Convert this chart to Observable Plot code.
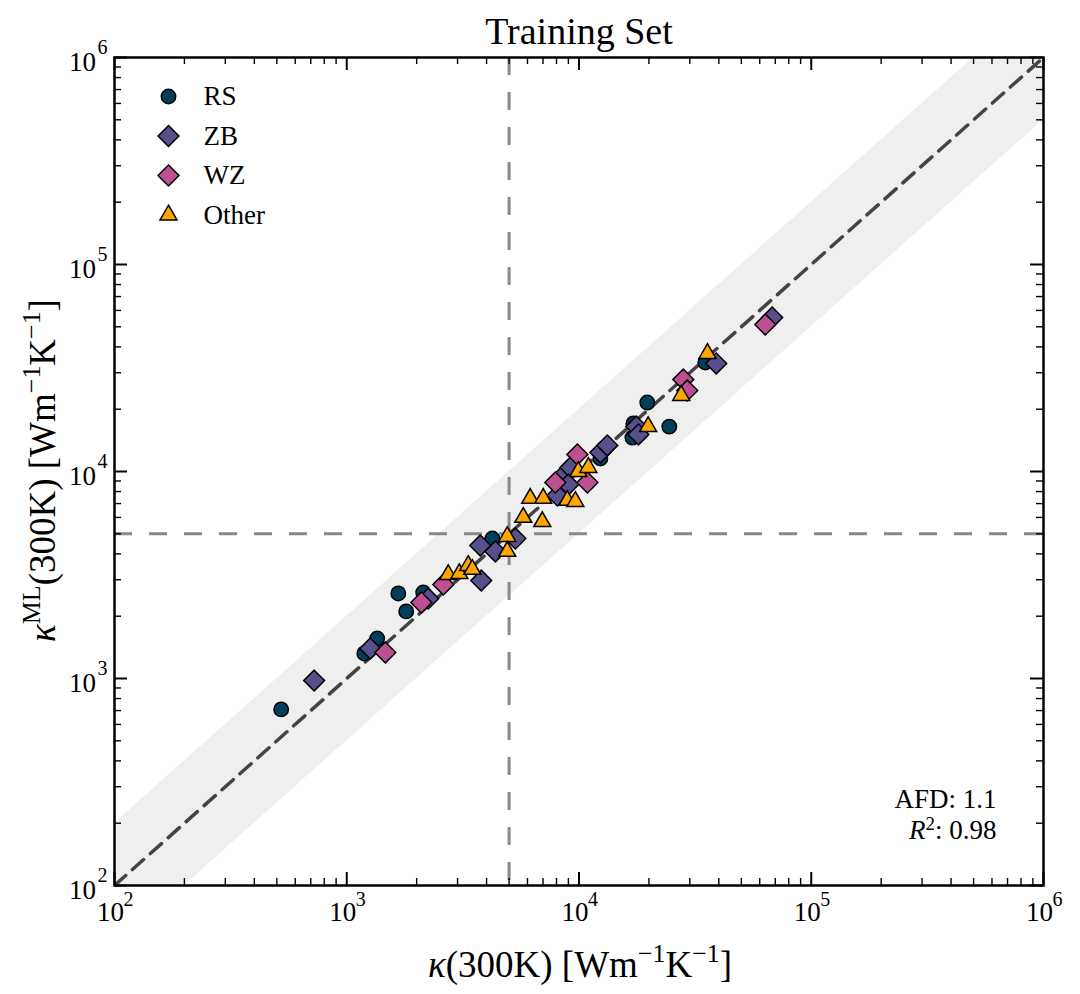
<!DOCTYPE html>
<html><head><meta charset="utf-8">
<script src="https://cdn.jsdelivr.net/npm/d3@7"></script>
<script src="https://cdn.jsdelivr.net/npm/@observablehq/plot@0.6"></script>
<style>html,body{margin:0;padding:0;background:#fff}</style>
</head><body><div id="chart"></div>
<script>
// ---- data ----
const rsX = [522, 1190, 1352, 1667, 1803, 2134, 4237, 12360, 16980, 17150, 19680, 24480, 34990];
const rsY = [709, 1321, 1560, 2576, 2109, 2601, 4744, 11560, 14590, 17060, 21540, 16480, 33640];

const zbX = [724, 1262, 2244, 3794, 3757, 4365, 5321, 8072, 8650, 9186, 9000, 12360, 13240, 17660, 18030, 38990, 67880];
const zbY = [977, 1396, 2432, 2972, 4394, 4111, 4744, 7656, 9685, 10450, 8650, 12360, 13370, 16480, 15100, 33270, 55480];

const wzX = [1466, 2094, 2606, 7907, 9838, 10870, 28120, 29240, 63390];
const wzY = [1336, 2329, 2845, 8850, 12080, 8850, 27800, 24600, 51290];

const otherX = [2735, 3054, 3335, 3473, 4909, 4909, 5754, 6166, 7015, 6950, 8906, 9643, 9931, 10970, 19850, 27540, 35730];
const otherY = [3177, 3213, 3514, 3363, 4853, 4111, 5998, 7413, 7413, 5727, 7246, 7161, 10000, 10450, 16480, 23280, 37150];

const categories = ["RS", "ZB", "WZ", "Other"];
const colors = ["#003f5c", "#58508d", "#bc5090", "#ffa600"];
const symbols = ["circle", "diamond2", "diamond2", "triangle"];
const radii = [7.2, 9.4, 9.4, 6.3];

const majorTicks = [1e2, 1e3, 1e4, 1e5, 1e6];
const thresholds = [5000];
const diagX = [1e2, 1e6];
const bandFactor = 2;
const afdText = "AFD: 1.1";
const r2Text = "R2: 0.98";
const title = "Training Set";
const xLabel = "κ(300K) [Wm−1K−1]";
const yLabel = "κML(300K) [Wm−1K−1]";

// ---- layout ----
const width = 1080, height = 994;
const mL = 114, mR = 37, mT = 57, mB = 109;
const W = width - mL - mR, H = height - mT - mB;
const FONT = "'Liberation Serif', 'Times New Roman', serif";

const minorTicks = [];
for (let k = 2; k < 6; k++) for (let m = 2; m < 10; m++) minorTicks.push(m * Math.pow(10, k));

const series = [[rsX, rsY], [zbX, zbY], [wzX, wzY], [otherX, otherY]];

const marks = [
  Plot.areaY(diagX, {x: d => d, y1: d => d / bandFactor, y2: d => d * bandFactor, fill: "#efefef", clip: true}),
  Plot.ruleX(thresholds, {x: d => d, stroke: "#888", strokeWidth: 3, strokeDasharray: "18,17"}),
  Plot.ruleY(thresholds, {y: d => d, stroke: "#888", strokeWidth: 3, strokeDasharray: "18,17"}),
  Plot.line(diagX, {x: d => d, y: d => d, stroke: "#444", strokeWidth: 3.5, strokeDasharray: "15,9", clip: true})
];

series.forEach(([xs, ys], i) => {
  const rows = xs.map((x, j) => ({x, y: ys[j]}));
  marks.push(Plot.dot(rows, {x: "x", y: "y", r: radii[i], symbol: symbols[i], fill: colors[i], stroke: "black", strokeWidth: 1.5, fillOpacity: 1}));
});

// ticks (inward on all sides)
const majorStyle = {stroke: "black", strokeWidth: 2};
const minorStyle = {stroke: "black", strokeWidth: 1.4};
marks.push(
  Plot.ruleX(majorTicks, {x: d => d, insetTop: H - 13, ...majorStyle}),
  Plot.ruleX(majorTicks, {x: d => d, insetBottom: H - 13, ...majorStyle}),
  Plot.ruleX(minorTicks, {x: d => d, insetTop: H - 7, ...minorStyle}),
  Plot.ruleX(minorTicks, {x: d => d, insetBottom: H - 7, ...minorStyle}),
  Plot.ruleY(majorTicks, {y: d => d, insetRight: W - 13, ...majorStyle}),
  Plot.ruleY(majorTicks, {y: d => d, insetLeft: W - 13, ...majorStyle}),
  Plot.ruleY(minorTicks, {y: d => d, insetRight: W - 7, ...minorStyle}),
  Plot.ruleY(minorTicks, {y: d => d, insetLeft: W - 7, ...minorStyle}),
  Plot.frame({stroke: "black", strokeWidth: 2.5})
);

// tick labels 10^k
const exp = d => String(Math.round(Math.log10(d)));
const T = {textAnchor: "middle", lineAnchor: "middle"};
marks.push(
  Plot.text(majorTicks, {x: d => d, frameAnchor: "bottom", text: () => "10", dx: -4, dy: 27, fontSize: 27, ...T}),
  Plot.text(majorTicks, {x: d => d, frameAnchor: "bottom", text: exp, dx: 14, dy: 14, fontSize: 20, ...T}),
  Plot.text(majorTicks, {y: d => d, frameAnchor: "left", text: () => "10", dx: -32, dy: 5, fontSize: 27, ...T}),
  Plot.text(majorTicks, {y: d => d, frameAnchor: "left", text: exp, dx: -12, dy: -10, fontSize: 20, ...T})
);

// legend
categories.forEach((c, i) => {
  const dy = 39 + i * 39.5;
  marks.push(
    Plot.dot([c], {frameAnchor: "top-left", dx: 54, dy, r: radii[i], symbol: symbols[i], fill: colors[i], stroke: "black", strokeWidth: 1.5}),
    Plot.text([c], {frameAnchor: "top-left", dx: 89, dy, text: d => d, textAnchor: "start", lineAnchor: "middle", fontSize: 27})
  );
});

// annotations, title, axis labels
marks.push(
  Plot.text([afdText], {frameAnchor: "bottom-right", dx: -47, dy: -86, text: d => d, textAnchor: "end", lineAnchor: "middle", fontSize: 27}),
  Plot.text([r2Text], {frameAnchor: "bottom-right", dx: -47, dy: -55, text: d => d, textAnchor: "end", lineAnchor: "middle", fontSize: 27}),
  Plot.text([title], {frameAnchor: "top", dy: -26, text: d => d, fontSize: 38, ...T}),
  Plot.text([xLabel], {frameAnchor: "bottom", dx: 1, dy: 80, text: d => d, fontSize: 37, ...T}),
  Plot.text([yLabel], {frameAnchor: "left", dx: -71, dy: -1, rotate: -90, text: d => d, fontSize: 37, ...T})
);

const chart = Plot.plot({
  width, height,
  marginLeft: mL, marginRight: mR, marginTop: mT, marginBottom: mB,
  style: {fontFamily: FONT, background: "white", color: "black", overflow: "visible"},
  x: {type: "log", domain: [1e2, 1e6], axis: null},
  y: {type: "log", domain: [1e2, 1e6], axis: null},
  marks
});

// rich text (italic kappa, superscripts)
function richify(svg, key, parts, size, rise = 0.42) {
  svg.querySelectorAll("text").forEach(el => {
    if (el.textContent !== key) return;
    el.textContent = "";
    let shift = 0;
    for (const p of parts) {
      const ts = document.createElementNS("http://www.w3.org/2000/svg", "tspan");
      const target = p.sup ? -rise * size : 0;
      const d = target - shift;
      if (d !== 0) ts.setAttribute("dy", d);
      shift = target;
      if (p.sup) ts.setAttribute("font-size", 0.7 * size);
      if (p.it) ts.setAttribute("font-style", "italic");
      ts.textContent = p.t;
      el.appendChild(ts);
    }
  });
}
richify(chart, xLabel, [{t: "κ", it: true}, {t: "(300K) [Wm"}, {t: "−1", sup: true}, {t: "K"}, {t: "−1", sup: true}, {t: "]"}], 37);
richify(chart, yLabel, [{t: "κ", it: true}, {t: "ML", sup: true}, {t: "(300K) [Wm"}, {t: "−1", sup: true}, {t: "K"}, {t: "−1", sup: true}, {t: "]"}], 37);
richify(chart, r2Text, [{t: "R", it: true}, {t: "2", sup: true}, {t: ": 0.98"}], 27, 0.34);

document.getElementById("chart").appendChild(chart);
</script></body></html>
